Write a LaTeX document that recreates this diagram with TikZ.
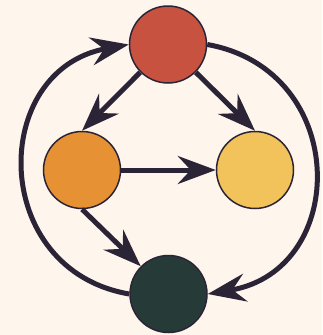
\documentclass[tikz,border=0pt]{standalone}
\usetikzlibrary{arrows.meta}
\definecolor{bg}{HTML}{FEF5EC}
\definecolor{ink}{HTML}{2B2436}
\definecolor{cred}{HTML}{C85240}
\definecolor{corange}{HTML}{E69234}
\definecolor{cyellow}{HTML}{F2C35A}
\definecolor{cgreen}{HTML}{263B38}
\tikzset{
  ball/.style={circle, draw=ink, line width=1.5pt, minimum size=77pt, inner sep=0pt},
  link/.style={draw=ink, line width=5pt, -{Stealth[length=38pt, width=28pt, inset=13pt]}}
}
\begin{document}
\begin{tikzpicture}[x=1pt, y=-1pt]
  \fill[bg] (0,0) rectangle (322,335);
  \useasboundingbox (0,0) rectangle (322,335);
  \node[ball, fill=cred] (top) at (168,44.5) {};
  \node[ball, fill=corange] (left) at (82,170) {};
  \node[ball, fill=cyellow] (right) at (255,170) {};
  \node[ball, fill=cgreen] (bottom) at (168.5,294) {};
  \draw[link] (top.south west) -- (left.north);
  \draw[link] (top.south east) -- (right.north);
  \draw[link] (left.east) -- (right.west);
  \draw[link] (left.south) -- (bottom.north west);
  \draw[link] (bottom.west) .. controls (-11,270) and (-11,70) .. (top.west);
  \draw[link] (top.east) .. controls (350,70) and (350,270) .. (bottom.east);
\end{tikzpicture}
\end{document}
